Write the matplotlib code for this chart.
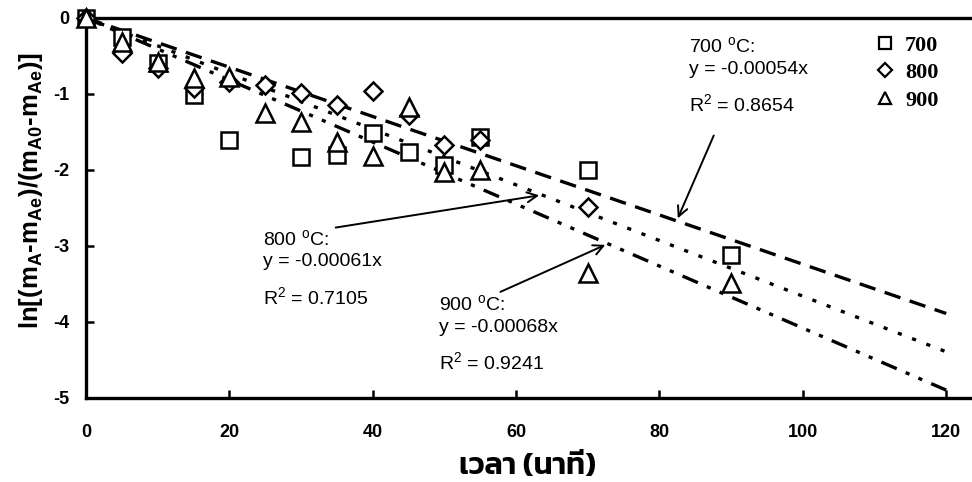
import matplotlib
matplotlib.use('Agg')
import numpy as np
import matplotlib.pyplot as plt

# data
t = [0, 5, 10, 15, 20, 25, 30, 35, 40, 45, 50, 55, 70, 90]
y700 = [0, -0.25, -0.59, -1.01, -1.61, None, -1.83, -1.80, -1.51, -1.76, -1.93, -1.57, -2.00, -3.12]
y800 = [0, -0.46, -0.66, -0.92, -0.84, -0.88, -0.99, -1.14, -0.96, -1.28, -1.67, -1.60, -2.49, None]
y900 = [0, -0.31, -0.58, -0.79, -0.77, -1.25, -1.37, -1.63, -1.82, -1.17, -2.03, -2.00, -3.36, -3.49]

temps = ['700', '800', '900']
slopes = [-0.00054, -0.00061, -0.00068]   # per second
r2 = ['0.8654', '0.7105', '0.9241']
line_t = [0, 120]

plt.rcParams['mathtext.fontset'] = 'custom'
plt.rcParams['mathtext.rm'] = 'Liberation Sans'
plt.rcParams['mathtext.bf'] = 'Liberation Sans:bold'
plt.rcParams['lines.scale_dashes'] = False
plt.rcParams['axes.unicode_minus'] = False

fig = plt.figure(figsize=(9.72, 4.82), dpi=100)
ax = fig.add_axes([86/972, 1 - 398/482, 1 - 86/972, 380/482])

def clean(vals):
    return [np.nan if v is None else v for v in vals]

mk = dict(linestyle='none', mfc='white', mec='black', mew=1.8, clip_on=False, zorder=3)
ax.plot(t, clean(y700), marker='s', ms=11.5, **mk)
ax.plot(t, clean(y800), marker='D', ms=9, **mk)
ax.plot(t, clean(y900), marker='^', ms=12.5, **mk)

# trend lines (equations are in seconds, axis in minutes)
dashes = [(12, 7), (3, 8), (12, 7, 3, 7, 3, 7)]
for k, d in zip(slopes, dashes):
    ln, = ax.plot(line_t, [k * 60 * v for v in line_t], color='black', lw=2.4, zorder=2)
    ln.set_dashes(d)

ax.set_xlim(0, 123.6)
ax.set_ylim(-5, 0)
ax.set_xticks([0, 20, 40, 60, 80, 100, 120])
ax.set_yticks([0, -1, -2, -3, -4, -5])
ax.tick_params(direction='in', length=6, width=1.8, labelsize=13)
ax.tick_params(axis='x', pad=19)
ax.tick_params(axis='y', pad=12)
for lab in ax.get_xticklabels() + ax.get_yticklabels():
    lab.set_family('Liberation Sans')
    lab.set_fontweight('bold')

for s in ['left', 'bottom', 'top']:
    ax.spines[s].set_linewidth(2.4)
ax.spines['right'].set_visible(False)

ax.set_ylabel(r'ln[(m$_\mathbf{A}$-m$_\mathbf{Ae}$)/(m$_\mathbf{A0}$-m$_\mathbf{Ae}$)]',
              fontsize=18.5, fontweight='bold', family='Liberation Sans')
ax.yaxis.set_label_coords(-0.046, 0.545)
fig.text(527/972, 1 - 466/482, 'เวลา (นาที)', ha='center', va='center',
         fontsize=22, fontweight='semibold', family=['Kanit', 'Noto Sans Thai', 'DejaVu Sans'])

# equation labels and arrows
fs = 14
X = lambda px: (px - 86) / 7.17
Y = lambda py: -(py - 18) / 76
labels = [((689, 47), (715, 133), 82.4),
          ((263, 240), (333, 228), 63.6),
          ((439, 305), (498, 293), 72.8)]
for i, ((lx, ly), (ax0, ay0), tx) in enumerate(labels):
    ax.text(X(lx), Y(ly), temps[i] + r' $^\mathrm{o}$C:', fontsize=fs, va='center',
            family='Liberation Sans')
    ax.text(X(lx), Y(ly + 22), 'y = %sx' % slopes[i], fontsize=fs, va='center',
            family='Liberation Sans')
    ax.text(X(lx), Y(ly + 58), r'R$^2$ = ' + r2[i], fontsize=fs, va='center',
            family='Liberation Sans')
    ax.annotate('', xy=(tx, slopes[i] * 60 * tx), xytext=(X(ax0), Y(ay0)),
                arrowprops=dict(arrowstyle='->', lw=1.4, color='black',
                                mutation_scale=18))

# legend
h = [plt.Line2D([], [], marker=m, ms=s, linestyle='none', mfc='white', mec='black', mew=1.6)
     for m, s in zip(['s', 'D', '^'], [8.5, 7, 9])]
leg = ax.legend(h, temps, loc='upper left', bbox_to_anchor=(874/972, 1 - 35/482),
                bbox_transform=fig.transFigure, frameon=False, borderpad=0,
                handlelength=0.95, handletextpad=0.45, labelspacing=0.32, borderaxespad=0,
                prop=dict(family='Liberation Serif', weight='bold', size=16))

fig.savefig('out.png')
